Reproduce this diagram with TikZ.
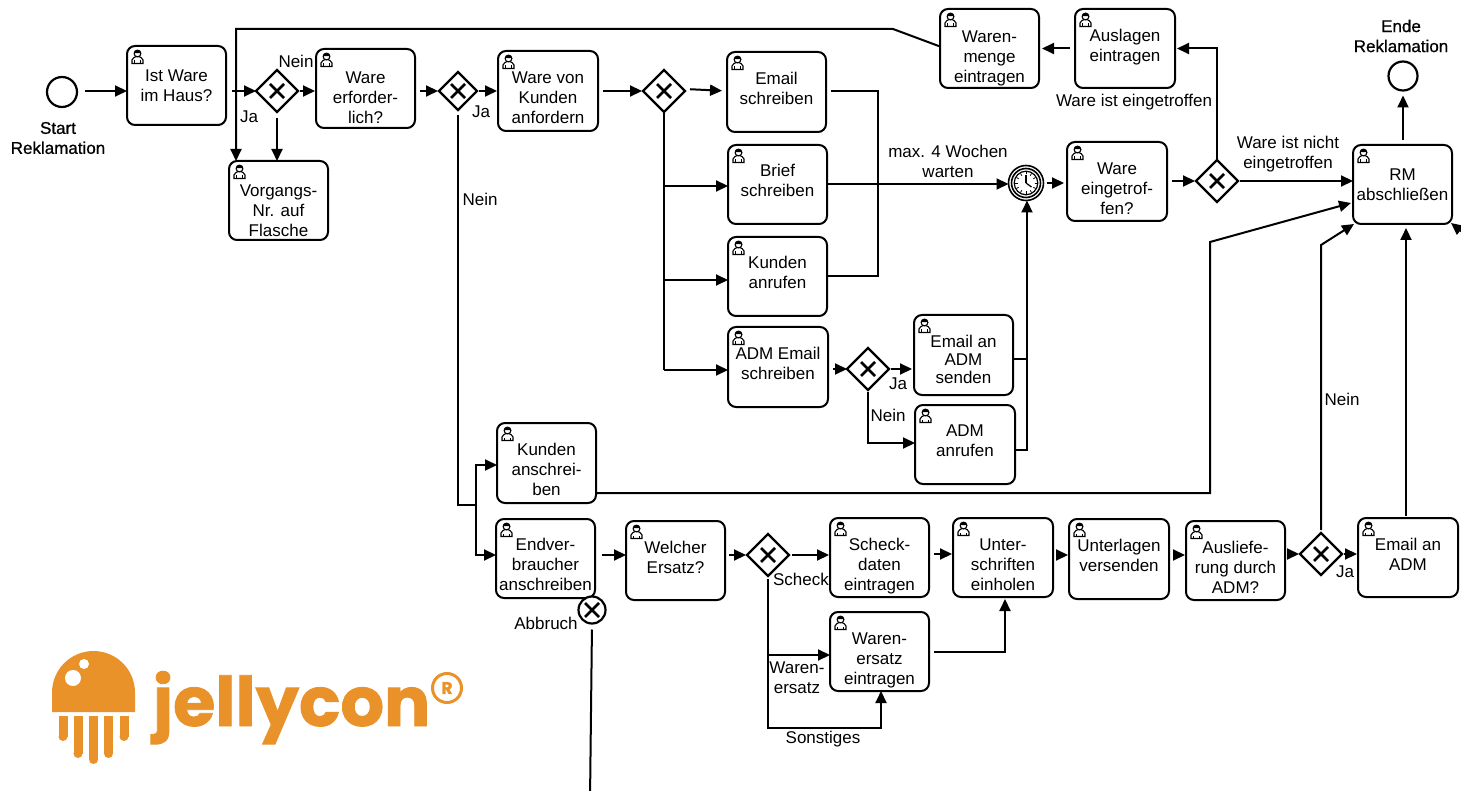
\documentclass[tikz,border=0pt]{standalone}
\usepackage{fontspec}
\setmainfont{Liberation Sans}
\newfontfamily\medfont[FakeBold=0.8]{Liberation Sans}
\newfontfamily\logofont[FakeBold=1.2]{Poppins}
\usetikzlibrary{arrows.meta,shapes.geometric,calc}
\definecolor{logoor}{HTML}{EA922A}
\tikzset{
  x=1pt,y=-1pt,
  every node/.style={inner sep=0pt,outer sep=0pt},
  taskbox/.style={draw,line width=2pt,rounded corners=8pt,fill=white},
  flow/.style={line width=2pt,-{Triangle[length=12pt,width=11pt]}},
  plainline/.style={line width=2pt},
  gate/.style={draw,diamond,aspect=1,line width=2.4pt,minimum width=#1,minimum height=#1,
    path picture={\draw[line width=2.6pt] ([shift={(-7,-7)}]path picture bounding box.center) -- ([shift={(7,7)}]path picture bounding box.center);
    \draw[line width=2.6pt] ([shift={(-7,7)}]path picture bounding box.center) -- ([shift={(7,-7)}]path picture bounding box.center);}},
  gate/.default=42pt,
  evt/.style={draw,circle,line width=2.2pt,minimum size=#1},
  lab/.style={font=\fontsize{17}{20}\selectfont,align=center,text depth=0pt},
  strong/.style={font=\fontsize{17}{20}\medfont,align=center},
}
\newcommand{\usericon}[2]{%
  \begin{scope}[shift={(#1,#2)},line width=1.1pt]
    \draw[fill=white] (-5.5,7) -- (-5.5,3.5) .. controls (-5.5,1) and (-2,1) .. (-1.5,0) -- (1.5,0) .. controls (2,1) and (5.5,1) .. (5.5,3.5) -- (5.5,7) -- cycle;
    \draw[line width=.8pt] (-3,7) -- (-3,4) (3,7) -- (3,4);
    \draw[fill=white] (0,-3) circle[radius=3.4];
    \fill (-3.4,-3.4) .. controls (-3,-7) and (3,-7) .. (3.4,-3.4) -- cycle;
  \end{scope}}
% name, x0, y0, x1, y1, first-line centre offset, text; optional: line spacing
\newcommand{\task}[8][20]{%
  \node[taskbox,minimum width=#5pt-#3pt,minimum height=#6pt-#4pt,anchor=north west] (#2) at (#3,#4)
    {\parbox[c][\dimexpr#6pt-#4pt\relax][t]{\dimexpr#5pt-#3pt\relax}{\fontsize{17}{#1}\selectfont\centering\hyphenpenalty=10000 \vspace*{\dimexpr#7pt-0.7\baselineskip+6.8pt\relax}\strut #8\par}};
  \usericon{#3+10.5}{#4+10.5}}
\begin{document}
\begin{tikzpicture}
\useasboundingbox (0,0) rectangle (1461,791);
% tasks
\task{ist}{127}{46}{226}{125}{29}{Ist Ware\\im Haus?}
\task{erf}{316}{49}{415}{128}{28}{Ware\\erforder-\\lich?}
\task{vorg}{229}{161}{328}{240}{29}{Vorgangs-\\Nr. auf\\Flasche}
\task{anf}{498}{51}{598}{131}{26}{Ware von\\Kunden\\anfordern}
\task{mail}{727}{52}{826}{132}{26}{Email\\schreiben}
\task{brief}{728}{145}{827}{224}{25}{Brief\\schreiben}
\task{anruf}{728}{237}{827}{316}{25}{Kunden\\anrufen}
\task{admmail}{728}{327}{828}{407}{26}{ADM Email\\schreiben}
\task[18]{send}{914}{315}{1013}{395}{26}{Email an\\ADM\\senden}
\task{admruf}{915}{405}{1015}{484}{25}{ADM\\anrufen}
\task{ansch}{497}{423}{596}{503}{26}{Kunden\\anschrei-\\ben}
\task{endv}{496}{519}{595}{598}{25}{Endver-\\braucher\\anschreiben}
\task{welch}{626}{521}{725}{600}{26}{Welcher\\Ersatz?}
\task{scheck}{830}{518}{929}{597}{26}{Scheck-\\daten\\eintragen}
\task{wersatz}{830}{612}{929}{691}{26}{Waren-\\ersatz\\eintragen}
\task{unter}{953}{518}{1053}{597}{26}{Unter-\\schriften\\einholen}
\task{unterl}{1069}{519}{1169}{599}{26}{Unterlagen\\versenden}
\task{auslief}{1186}{521}{1285}{600}{26}{Ausliefe-\\rung durch\\ADM?}
\task{emailadm}{1358}{518}{1458}{597}{26}{Email an\\ADM}
\task{menge}{940}{9}{1039}{88}{27}{Waren-\\menge\\eintragen}
\task{ausl}{1075}{9}{1175}{88}{26}{Auslagen\\eintragen}
\task{eing}{1067}{142}{1167}{221}{26}{Ware\\eingetrof-\\fen?}
\task{rm}{1353}{145}{1452}{224}{29}{RM\\abschließen}
% gateways and events
\node[gate] (g1) at (277,91) {};
\node[gate=38pt] (g2) at (458,91) {};
\node[gate] (g3) at (664,91) {};
\node[gate] (g4) at (868,369) {};
\node[gate] (g5) at (768,555) {};
\node[gate] (g6) at (1217,181) {};
\node[gate] (g7) at (1321,554) {};
\node[evt=30pt] (start) at (62,92) {};
\node[evt=29pt] (ende) at (1403,76) {};
\node[evt=27pt,fill=white,path picture={
  \draw[line width=2.6pt] ([shift={(-7,-7)}]path picture bounding box.center) -- ([shift={(7,7)}]path picture bounding box.center);
  \draw[line width=2.6pt] ([shift={(-7,7)}]path picture bounding box.center) -- ([shift={(7,-7)}]path picture bounding box.center);}] (abort) at (592,610) {};
% timer
\node[draw,circle,line width=1.6pt,minimum size=35pt] (timer) at (1026,183) {};
\draw[line width=1.6pt] (timer.center) circle[radius=14.5];
\draw[line width=1.2pt] (timer.center) circle[radius=11.8];
\foreach \a in {0,30,...,330}{\draw[line width=.8pt] ($(timer.center)+(\a:8.5)$) -- ($(timer.center)+(\a:11)$);}
\draw[line width=1.2pt] (timer.center) -- ++(0,-8);
\draw[line width=1.2pt] (timer.center) -- ++(5.5,4);
% connectors
\draw[flow] (85,91) -- (ist.west |- 0,91);
\draw[flow,shorten <=6pt] (ist.east |- g1) -- (g1.west);
\draw[flow,shorten <=2pt,shorten >=1pt] (g1.east) -- (erf.west |- g1);
\draw[flow,shorten <=6pt] (g1.south) -- (vorg.north -| g1);
\coordinate (mb1) at (893,29);
\coordinate (mb2) at (236,29);
\draw[flow] (menge.west) ++(0,-2) -- (mb1) -- (mb2) -- (mb2 |- vorg.north);
\draw[flow,shorten <=5pt,shorten >=1pt] (erf.east |- g2) -- (g2.west);
\draw[flow,shorten <=2pt,shorten >=1pt] (g2.east) -- (anf.west |- g2);
\coordinate (j1) at (476,505);
\coordinate (ja) at (476,465);
\coordinate (jb) at (476,555);
\draw[plainline,shorten <=5pt] (g2.south) -- (g2.south |- j1) -- (j1);
\draw[flow] (j1) -- (ja) -- (ansch.west |- ja);
\draw[flow] (j1) -- (jb) -- (endv.west |- jb);
\draw[flow,shorten <=5pt,shorten >=1pt] (anf.east |- g3) -- (g3.west);
\draw[flow,shorten <=5pt,shorten >=5pt] ([yshift=2pt]g3.east) -- (mail.west |- g3);
\coordinate (v3) at (g3.south |- 0,370);
\draw[plainline] (g3.south) -- (v3);
\draw[flow] (g3.south |- 0,186) -- (brief.west |- 0,186);
\draw[flow] (g3.south |- 0,280) -- (anruf.west |- 0,280);
\draw[flow] (v3) -- (admmail.west |- v3);
\coordinate (r1) at (878,91);
\coordinate (r2) at (878,276);
\draw[plainline,shorten <=5pt] (mail.east |- r1) -- (r1) -- (r2) -- (anruf.east |- r2);
\draw[flow] (brief.east |- 0,184) -- (timer.west |- 0,184);
\draw[flow,shorten <=5pt] (admmail.east |- g4) -- (g4.west);
\draw[flow,shorten <=2pt,shorten >=2pt] (g4.east) -- (send.west |- g4);
\coordinate (d1) at (868,443);
\draw[flow,shorten <=2pt] (g4.south) -- (d1) -- (admruf.west |- d1);
\coordinate (c1) at (1027,359);
\coordinate (c2) at (1027,450);
\draw[plainline] (send.east |- c1) -- (c1);
\draw[flow] (admruf.east |- c2) -- (c2) -- (c2 |- timer.south);
\draw[flow,shorten <=3pt,shorten >=3pt] (timer.east) -- (eing.west |- timer);
\draw[flow,shorten <=5pt,shorten >=1pt] (eing.east |- g6) -- (g6.west);
\draw[flow,shorten <=2pt] (g6.east) -- (rm.west |- g6);
\coordinate (a1) at (g6 |- ausl.east);
\draw[flow,shorten <=1pt,shorten >=2pt] ([yshift=-1pt]g6.north) -- (a1) -- (ausl.east |- a1);
\draw[flow,shorten <=5pt,shorten >=3pt] (ausl.west) -- (menge.east);
\draw[flow,shorten <=5pt,shorten >=5pt] (rm.north -| ende) -- (ende.south);
\coordinate (k1) at (1210,493);
\coordinate (k2) at (1210,242);
\draw[flow] (ansch.east |- k1) -- (k1) -- (k2) -- (1351,203);
\coordinate (n1) at (1321,245);
\draw[flow,shorten <=3pt] (g7.north) -- (n1) -- (1354,224);
\coordinate (e1) at (1406,228);
\draw[flow,shorten <=2pt] (emailadm.north -| e1) -- (e1);
\draw[flow] (1470,238) -- (1451,223);
\draw[flow,shorten <=7pt] (endv.east |- 0,555) -- (welch.west |- 0,555);
\draw[flow,shorten <=4pt,shorten >=1pt] (welch.east |- g5) -- (g5.west);
\draw[flow,shorten <=3pt,shorten >=1pt] (g5.east) -- (scheck.west |- g5);
\coordinate (w1) at (768,728);
\coordinate (w2) at (881,728);
\draw[flow,shorten <=3pt] (g5.south) -- (w1) -- (w2) -- (w2 |- wersatz.south);
\draw[flow] (768,655) -- (wersatz.west |- 0,655);
\draw[flow,shorten <=5pt,shorten >=1pt] (scheck.east |- 0,554) -- (unter.west |- 0,554);
\coordinate (u1) at (1005,652);
\draw[flow,shorten <=5pt,shorten >=2pt] (wersatz.east |- u1) -- (u1) -- (u1 |- unter.south);
\draw[flow,shorten <=5pt,shorten >=1pt] (unter.east |- 0,555) -- (unterl.west |- 0,555);
\draw[flow,shorten <=8pt,shorten >=1pt] (unterl.east |- 0,555) -- (auslief.west |- 0,555);
\draw[flow,shorten <=2pt,shorten >=1pt] (auslief.east |- g7) -- (g7.west);
\draw[flow,shorten <=2pt,shorten >=1pt] (g7.east) -- (emailadm.west |- g7);
\coordinate (ab) at (590,800);
\draw[plainline,shorten <=6pt] (abort.south) -- (ab);
% labels
\node[strong] (lstart) at (58,138) {Start\\Reklamation};
\node[strong] (lende) at (1401,36) {Ende\\Reklamation};
\node[lab] (l1) at (296,61) {Nein};
\node[lab] (l2) at (249,117) {Ja};
\node[lab] (l3) at (481,112) {Ja};
\node[lab] (l4) at (480,199) {Nein};
\node[lab] (l5) at (1134,100) {Ware ist eingetroffen};
\node[lab] (l6) at (1288,152) {Ware ist nicht\\eingetroffen};
\node[lab] (l7) at (948,161) {max. 4 Wochen\\warten};
\node[lab] (l8) at (1342,399) {Nein};
\node[lab] (l9) at (898,384) {Ja};
\node[lab] (l10) at (888,415) {Nein};
\node[lab] (l11) at (1345,572) {Ja};
\node[lab] (l12) at (801,579) {Scheck};
\node[lab] (l13) at (546,623) {Abbruch};
\node[lab] (l14) at (797,678) {Waren-\\ersatz};
\node[lab] (l15) at (823,737) {Sonstiges};
% logo
\fill[logoor] (52,712) -- (52,692.5) arc[start angle=180,end angle=360,radius=41.5] -- (135,712) -- cycle;
\fill[white] (73,678) circle[radius=8];
\fill[white] (84,664) circle[radius=5];
\foreach \tx/\ty in {63/741,78/758,93.5/764,108.5/758,124/741}{
  \fill[logoor] (\tx-4.5,716) rectangle (\tx+4.5,\ty-4.5);
  \fill[logoor] (\tx,\ty-4.5) circle[radius=4.5];
}
\node[anchor=base west,text=logoor] (logo) at (153,726) {\logofont\bfseries\fontsize{68.5}{68.5}\selectfont jellycon};
\node[circle,draw=logoor,line width=3pt,minimum size=29pt,text=logoor] (reg) at (447,688) {\logofont\bfseries\fontsize{17}{17}\selectfont R};
\end{tikzpicture}
\end{document}
